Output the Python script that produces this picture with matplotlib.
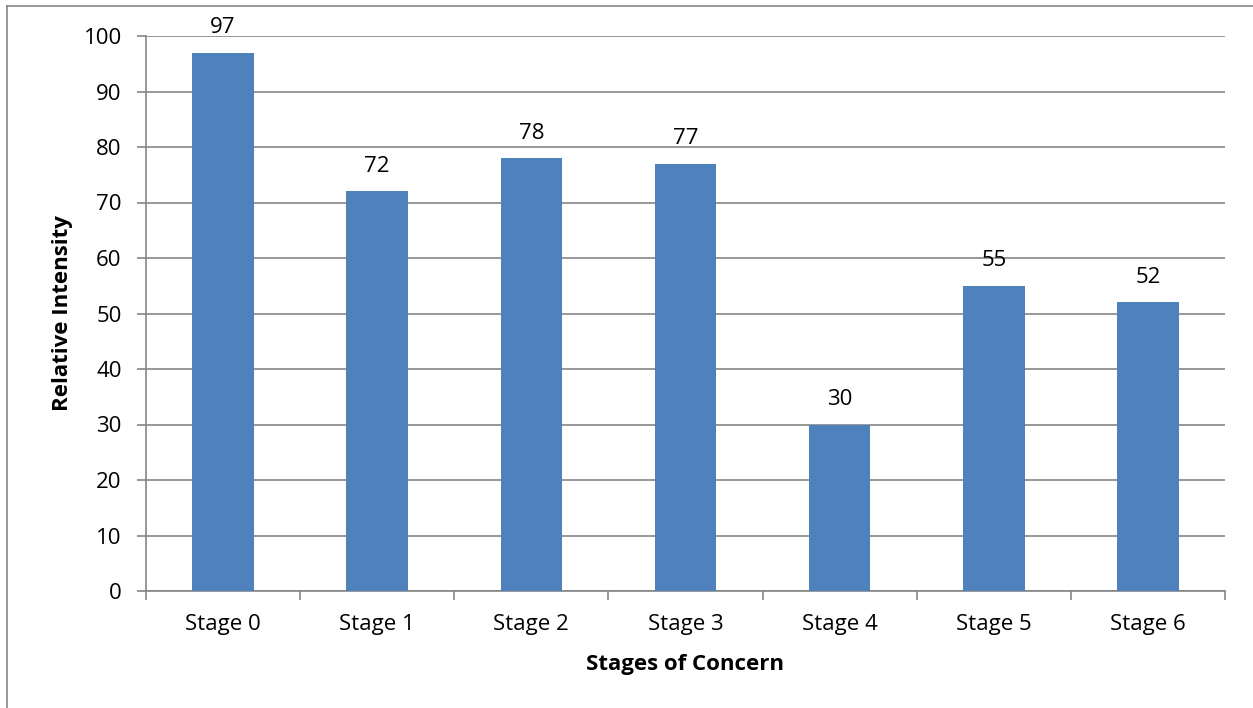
import matplotlib
matplotlib.use("Agg")
import matplotlib.pyplot as plt
from matplotlib.lines import Line2D
import numpy as np

categories = ["Stage 0", "Stage 1", "Stage 2", "Stage 3", "Stage 4", "Stage 5", "Stage 6"]
values = [97, 72, 78, 77, 30, 55, 52]
yticks = [0, 10, 20, 30, 40, 50, 60, 70, 80, 90, 100]

plt.rcParams['font.family'] = ['Open Sans', 'DejaVu Sans']

fig = plt.figure(figsize=(12.53, 7.08), dpi=100)
ax = fig.add_axes([146/1253, 1-591/708, (1225-146)/1253, (591-36)/708])

grid_c = "#868686"
fs = 16
x = np.arange(len(categories))
ax.bar(x, values, width=0.40, color="#4F81BD", zorder=3)
ax.set_xlim(-0.5, len(categories) - 0.5)
ax.set_ylim(0, 100)
ax.set_yticks(yticks)
ax.yaxis.grid(True, color=grid_c, linewidth=1.2, zorder=0)
ax.set_axisbelow(True)

for s in ["top", "right"]:
    ax.spines[s].set_visible(False)
for s in ["left", "bottom"]:
    ax.spines[s].set_color(grid_c)
    ax.spines[s].set_linewidth(1.2)

ax.tick_params(axis="y", direction="out", length=6.5, color=grid_c, width=1.2, labelsize=fs, pad=11)
ax.set_xticks(x)
ax.set_xticklabels(categories, fontsize=fs)
ax.tick_params(axis="x", which="major", length=0, pad=16.5)
ax.set_xticks(np.arange(-0.5, len(categories), 1.0), minor=True)
ax.tick_params(axis="x", which="minor", direction="out", length=6.5, color=grid_c, width=1.2)

for xi, v in zip(x, values):
    ax.annotate(str(v), (xi, v), xytext=(0, 14), textcoords="offset points",
                ha="center", va="baseline", fontsize=fs)

ax.set_ylabel("Relative Intensity", fontsize=fs, fontweight="bold")
ax.yaxis.set_label_coords((73 - 146) / 1079, 0.5)
ax.set_xlabel("Stages of Concern", fontsize=fs, fontweight="bold")
ax.xaxis.set_label_coords(0.5, (591 - 654) / 555)

# outer chart border (left and top)
fig.add_artist(Line2D([7/1253, 7/1253], [0, 1-6/708], color=grid_c, linewidth=1.2, transform=fig.transFigure))
fig.add_artist(Line2D([7/1253, 1], [1-6/708, 1-6/708], color=grid_c, linewidth=1.2, transform=fig.transFigure))

fig.savefig("out.png", dpi=100)
